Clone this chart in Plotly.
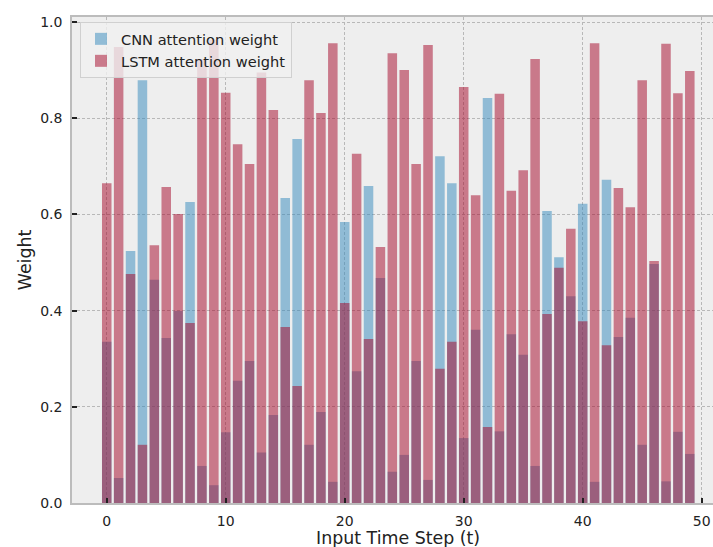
import plotly.graph_objects as go

# Attention weights per input time step
time_steps = list(range(50))
cnn_weight = [
    0.335, 0.052, 0.524, 0.879, 0.464, 0.343, 0.399, 0.626, 0.077, 0.037,
    0.147, 0.254, 0.295, 0.105, 0.183, 0.634, 0.757, 0.121, 0.189, 0.044,
    0.584, 0.274, 0.659, 0.468, 0.065, 0.100, 0.295, 0.048, 0.721, 0.665,
    0.135, 0.360, 0.842, 0.149, 0.351, 0.308, 0.077, 0.607, 0.511, 0.430,
    0.622, 0.044, 0.672, 0.345, 0.385, 0.121, 0.497, 0.045, 0.148, 0.102,
]
lstm_weight = [
    0.665, 0.948, 0.476, 0.121, 0.536, 0.657, 0.601, 0.374, 0.923, 0.963,
    0.853, 0.746, 0.705, 0.895, 0.817, 0.366, 0.243, 0.879, 0.811, 0.956,
    0.416, 0.726, 0.341, 0.532, 0.935, 0.900, 0.705, 0.952, 0.279, 0.335,
    0.865, 0.640, 0.158, 0.851, 0.649, 0.692, 0.923, 0.393, 0.489, 0.570,
    0.378, 0.956, 0.328, 0.655, 0.615, 0.879, 0.503, 0.955, 0.852, 0.898,
]
x_ticks = [0, 10, 20, 30, 40, 50]
y_ticks = [0.0, 0.2, 0.4, 0.6, 0.8, 1.0]

W, H = 713, 547
M_L, M_R, M_T, M_B = 72, 0, 17, 44

fig = go.Figure()
fig.add_trace(go.Bar(
    x=time_steps, y=cnn_weight, name="CNN attention weight",
    width=0.8, marker=dict(color="#348ABD", line=dict(width=0)), opacity=0.5,
))
fig.add_trace(go.Bar(
    x=time_steps, y=lstm_weight, name="LSTM attention weight",
    width=0.8, marker=dict(color="#A60628", line=dict(width=0)), opacity=0.5,
))

font_family = "DejaVu Sans"
grid = dict(showgrid=True, gridcolor="#b8b8b8", griddash="3px,2px", gridwidth=1)

fig.update_layout(
    width=W, height=H,
    margin=dict(l=M_L, r=M_R, t=M_T, b=M_B, pad=0),
    barmode="overlay",
    paper_bgcolor="white",
    plot_bgcolor="#eeeeee",
    font=dict(family=font_family, size=14, color="#222222"),
    showlegend=True,
    legend=dict(
        x=0.0125, y=0.99, xanchor="left", yanchor="top",
        bgcolor="rgba(240,240,240,0.8)", bordercolor="#d0d0d0", borderwidth=1,
        font=dict(family=font_family, size=14.6, color="#222222"),
        traceorder="normal", itemsizing="constant",
    ),
    xaxis=dict(
        range=[-2.92, 50.95], tickvals=x_ticks, ticktext=[str(v) for v in x_ticks],
        ticks="inside", ticklen=5, tickwidth=1.5, tickcolor="#222222",
        showline=True, linecolor="#bcbcbc", linewidth=1.5, mirror=True,
        zeroline=False, ticklabelstandoff=4, **grid,
    ),
    yaxis=dict(
        range=[0, 1.0104], tickvals=y_ticks, tickformat=".1f",
        ticks="inside", ticklen=5, tickwidth=1.5, tickcolor="#222222",
        showline=True, linecolor="#bcbcbc", linewidth=1.5, mirror=False,
        zeroline=False, ticklabelstandoff=5,
        title=dict(text="Weight", font=dict(size=17.4), standoff=4),
        **grid,
    ),
)

# x-axis title, centred under the full axes box
fig.add_annotation(
    text="Input Time Step (t)", xref="paper", yref="paper",
    x=(398 - M_L) / (W - M_L - M_R), y=0, xanchor="center", yanchor="top",
    yshift=-23, showarrow=False, font=dict(size=17.4, color="#222222"),
)

fig.write_html("out.html")
